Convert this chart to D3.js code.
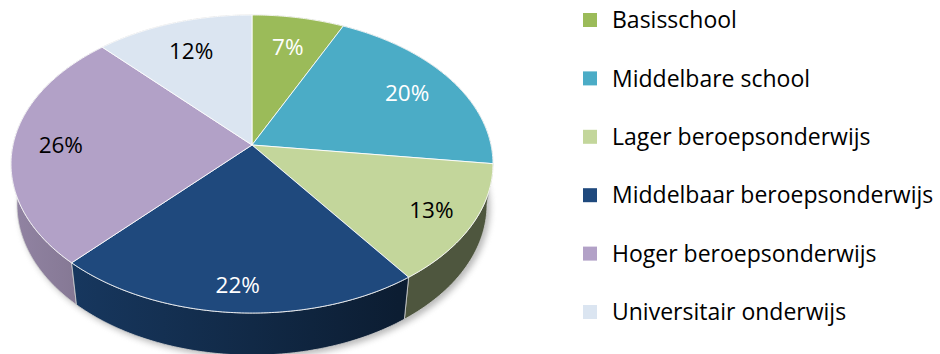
<!DOCTYPE html>
<html>
<head>
<meta charset="utf-8">
<script src="https://cdn.jsdelivr.net/npm/d3@7/dist/d3.min.js"></script>
<style>
  html, body { margin: 0; padding: 0; background: #fff; }
  svg { display: block; }
  text { font-family: "Open Sans", Lato, sans-serif; }
</style>
</head>
<body>
<svg id="chart" width="940" height="354"></svg>
<script>
// Opleidingsniveau – share per category (percent)
const categories = [
  "Basisschool",
  "Middelbare school",
  "Lager beroepsonderwijs",
  "Middelbaar beroepsonderwijs",
  "Hoger beroepsonderwijs",
  "Universitair onderwijs"
];
const values = [7, 20, 13, 22, 26, 12];
const colors = ["#9bbb59", "#4bacc6", "#c3d69b", "#1f497d", "#b2a1c7", "#dbe5f1"];
const labelColors = ["#fff", "#fff", "#000", "#fff", "#000", "#000"];

const svg = d3.select("#chart");
const defs = svg.append("defs");

// 3D disc projected with a little perspective (camera above and in front)
const CX = 252, CY = 145;     // apex of the slices on the top face
const RX = 239, RY = 146.6;   // horizontal / depth radii
const KP = 0.1275;            // perspective strength across the depth
const KZ = 0.025;             // bottom rim sits slightly farther away
const DEPTH = 42;             // thickness of the disc

function proj(theta, r, z) {
  const u = r * Math.cos(theta), v = r * Math.sin(theta);
  const d = 1 + KP * u + KZ * z;
  return [CX + RX * v / d, CY + (-RY * u + DEPTH * z) / d];
}

const pie = d3.pie().sort(null).value(d => d.value).startAngle(0).endAngle(2 * Math.PI);
const arcs = pie(categories.map((c, i) => ({ name: c, value: values[i], color: colors[i], lc: labelColors[i] })));

const line = d3.line();
const fmt = d3.format(".0%");
const total = d3.sum(values);

function rimPoints(a0, a1, z) {
  const n = Math.max(2, Math.ceil((a1 - a0) / 0.01));
  return d3.range(n + 1).map(k => proj(a0 + (a1 - a0) * k / n, 1, z));
}

function shade(c, f) {
  const r = d3.rgb(c);
  return d3.rgb(r.r * f, r.g * f, r.b * f).formatHex();
}

// drop shadow under the disc
const blur = defs.append("filter").attr("id", "soft").attr("x", "-10%").attr("y", "-10%").attr("width", "120%").attr("height", "130%");
blur.append("feGaussianBlur").attr("stdDeviation", 3);

const full = rimPoints(0, 2 * Math.PI, 1);
svg.append("path")
  .attr("d", line(full) + "Z")
  .attr("transform", "translate(3,3)")
  .attr("fill", "#7f7f7f")
  .attr("opacity", 0.55)
  .attr("filter", "url(#soft)");

// wall gradients: lit from the left, darker towards the right
const x0 = CX - RX - 4, x1 = CX + RX + 4;
const shadeStops = [[0, 0.82], [0.5, 0.56], [0.8, 0.4], [1, 0.4]];
arcs.forEach((a, i) => {
  const g = defs.append("linearGradient")
    .attr("id", "wall" + i)
    .attr("gradientUnits", "userSpaceOnUse")
    .attr("x1", x0).attr("y1", 0).attr("x2", x1).attr("y2", 0);
  shadeStops.forEach(([o, f]) => {
    g.append("stop").attr("offset", o).attr("stop-color", shade(a.data.color, f));
  });
});

// outer walls, far pieces first
const walls = arcs.map((a, i) => {
  const mid = (a.startAngle + a.endAngle) / 2;
  return { a, i, depth: Math.cos(mid) };
}).sort((p, q) => q.depth - p.depth);

svg.append("g").selectAll("path")
  .data(walls)
  .join("path")
  .attr("d", w => {
    const top = rimPoints(w.a.startAngle, w.a.endAngle, 0);
    const bot = rimPoints(w.a.startAngle, w.a.endAngle, 1).reverse();
    return line(top.concat(bot)) + "Z";
  })
  .attr("fill", w => `url(#wall${w.i})`)
  .attr("stroke", "#d0d0d0")
  .attr("stroke-width", 0.8)
  .attr("stroke-linejoin", "round");

// top faces
svg.append("g").selectAll("path")
  .data(arcs)
  .join("path")
  .attr("d", a => line([[CX, CY]].concat(rimPoints(a.startAngle, a.endAngle, 0))) + "Z")
  .attr("fill", a => a.data.color)
  .attr("stroke", "#ffffff")
  .attr("stroke-opacity", 0.85)
  .attr("stroke-width", 1)
  .attr("stroke-linejoin", "round");

// percentage labels
svg.append("g").selectAll("text")
  .data(arcs)
  .join("text")
  .attr("transform", a => {
    const mid = (a.startAngle + a.endAngle) / 2;
    const r = 0.75 + 0.05 * (1 - Math.cos(mid));
    const [x, y] = proj(mid, r, 0);
    return `translate(${x},${y})`;
  })
  .attr("text-anchor", "middle")
  .attr("dy", "0.36em")
  .attr("font-size", 22.5)
  .attr("fill", a => a.data.lc)
  .text(a => fmt(a.data.value / total));

// legend
const legend = svg.append("g").attr("transform", "translate(583,20)");
const row = legend.selectAll("g")
  .data(arcs)
  .join("g")
  .attr("transform", (a, i) => `translate(0,${i * 58.4})`);
row.append("rect")
  .attr("x", 0).attr("y", -7)
  .attr("width", 14).attr("height", 14)
  .attr("fill", a => a.data.color);
row.append("text")
  .attr("x", 29)
  .attr("dy", "0.36em")
  .attr("font-size", 23)
  .attr("fill", "#000")
  .text(a => a.data.name);
</script>
</body>
</html>
